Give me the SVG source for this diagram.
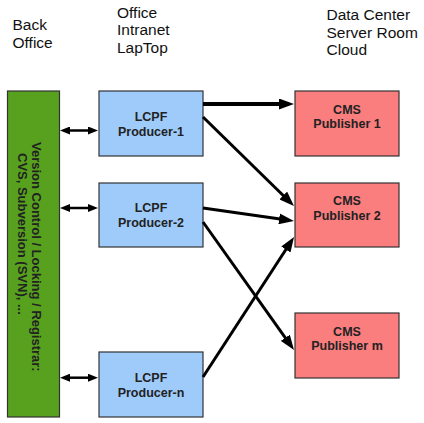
<svg xmlns="http://www.w3.org/2000/svg" width="424" height="423" viewBox="0 0 424 423">
<style>
.hdr{font-family:"Liberation Sans",Arial,sans-serif;font-size:15.5px;fill:#111}
.lbl{font-family:"Liberation Sans",Arial,sans-serif;font-size:12.5px;font-weight:bold;fill:#222;text-anchor:middle}
.vc{font-family:"Liberation Sans",Arial,sans-serif;font-size:13px;font-weight:bold;fill:#222}
.prod{fill:#9fcbfb;stroke:#333;stroke-width:1.2}
.pub{fill:#fb7e7e;stroke:#333;stroke-width:1.2}
.conn{stroke:#000;stroke-width:3;fill:none;marker-end:url(#ah)}
.bi{stroke:#000;stroke-width:2.5;fill:none;marker-start:url(#dh);marker-end:url(#dh)}
</style>
<defs>
<marker id="ah" markerUnits="userSpaceOnUse" markerWidth="16" markerHeight="11" refX="1" refY="5.5" orient="auto"><path d="M0,0 L15,5.5 L0,11 z" fill="#000"/></marker>
<marker id="dh" markerUnits="userSpaceOnUse" markerWidth="11" markerHeight="8" refX="1" refY="4" orient="auto-start-reverse"><path d="M0,0 L10,4 L0,8 z" fill="#000"/></marker>
</defs>
<rect width="424" height="423" fill="#fff"/>
<g id="headers">
<text class="hdr" x="12.5" y="29.5">Back</text>
<text class="hdr" x="12.5" y="47.5">Office</text>
<text class="hdr" x="117" y="17.5">Office</text>
<text class="hdr" x="117" y="35">Intranet</text>
<text class="hdr" x="117" y="52.5">LapTop</text>
<text class="hdr" x="326.5" y="20">Data Center</text>
<text class="hdr" x="326.5" y="37.5">Server Room</text>
<text class="hdr" x="326.5" y="55">Cloud</text>
</g>
<g id="back-office">
<rect x="7.5" y="91" width="52" height="326" fill="#58a11f" stroke="#333" stroke-width="1.2"/>
<text class="vc" transform="translate(31.5,142) rotate(90)">Version Control / Locking / Registrar:</text>
<text class="vc" transform="translate(17.5,153) rotate(90)">CVS, Subversion (SVN), ...</text>
</g>
<g id="producer-1">
<rect class="prod" x="99" y="91" width="104" height="65"/>
<text class="lbl" x="151" y="121">LCPF</text>
<text class="lbl" x="151" y="136">Producer-1</text>
</g>
<g id="producer-2">
<rect class="prod" x="99" y="183" width="104" height="64"/>
<text class="lbl" x="151" y="212">LCPF</text>
<text class="lbl" x="151" y="227">Producer-2</text>
</g>
<g id="producer-n">
<rect class="prod" x="99" y="352" width="104" height="65"/>
<text class="lbl" x="151" y="382">LCPF</text>
<text class="lbl" x="151" y="397">Producer-n</text>
</g>
<g id="publisher-1">
<rect class="pub" x="295" y="91" width="104" height="65"/>
<text class="lbl" x="347" y="114">CMS</text>
<text class="lbl" x="347" y="128">Publisher 1</text>
</g>
<g id="publisher-2">
<rect class="pub" x="295" y="183" width="104" height="64"/>
<text class="lbl" x="347" y="205">CMS</text>
<text class="lbl" x="347" y="220">Publisher 2</text>
</g>
<g id="publisher-m">
<rect class="pub" x="295" y="313" width="104" height="65"/>
<text class="lbl" x="347" y="336">CMS</text>
<text class="lbl" x="347" y="350">Publisher m</text>
</g>
<g id="connectors">
<line class="bi" x1="69" y1="130.5" x2="89" y2="130.5"/>
<line class="bi" x1="69" y1="208" x2="89" y2="208"/>
<line class="bi" x1="69" y1="377.7" x2="89" y2="377.7"/>
<line class="conn" style="stroke-width:4" x1="203" y1="104" x2="280" y2="104"/>
<line class="conn" x1="203" y1="117" x2="284" y2="196.2"/>
<line class="conn" x1="203" y1="208" x2="280.1" y2="219"/>
<line class="conn" x1="203" y1="222" x2="285.9" y2="338.6"/>
<line class="conn" x1="203" y1="377" x2="286.4" y2="248.7"/>
</g>
</svg>
